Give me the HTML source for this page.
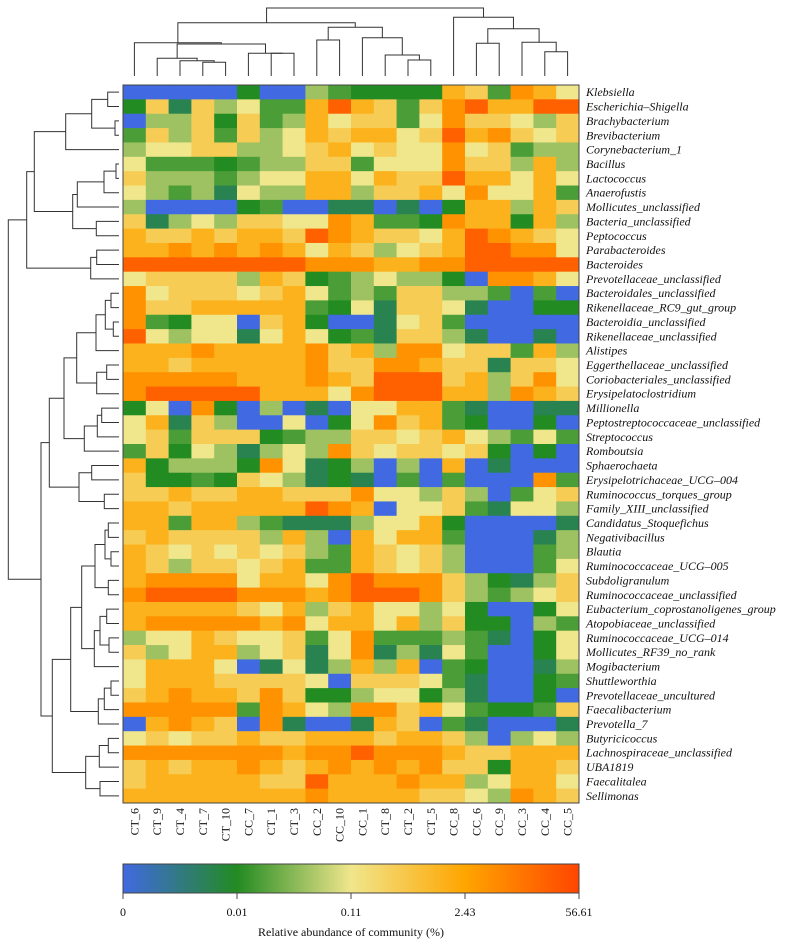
<!DOCTYPE html>
<html><head><meta charset="utf-8"><style>
html,body{margin:0;padding:0;background:#fff;}
svg{display:block;font-family:"Liberation Serif",serif;}
</style></head><body>
<svg id="chart" width="794" height="946" viewBox="0 0 794 946" xmlns="http://www.w3.org/2000/svg">
<defs><linearGradient id="cbar" x1="0" x2="1" y1="0" y2="0">
<stop offset="0" stop-color="#4169E1"/><stop offset="0.25" stop-color="#228B22"/><stop offset="0.5" stop-color="#F0E68C"/><stop offset="0.75" stop-color="#FFA500"/><stop offset="1" stop-color="#FF4500"/></linearGradient></defs>
<g id="cells"></g>
<g id="rowlabels"></g>
<g id="collabels"></g>
<g id="topdendro" stroke="#333" stroke-width="1" fill="none"></g>
<g id="leftdendro" stroke="#333" stroke-width="1" fill="none"></g>
<g id="colorbar"></g>
</svg>
<script>
const columns=["CT_6","CT_9","CT_4","CT_7","CT_10","CC_7","CT_1","CT_3","CC_2","CC_10","CC_1","CT_8","CT_2","CT_5","CC_8","CC_6","CC_9","CC_3","CC_4","CC_5"];
const genera=["Klebsiella","Escherichia\u2013Shigella","Brachybacterium","Brevibacterium","Corynebacterium_1","Bacillus","Lactococcus","Anaerofustis","Mollicutes_unclassified","Bacteria_unclassified","Peptococcus","Parabacteroides","Bacteroides","Prevotellaceae_unclassified","Bacteroidales_unclassified","Rikenellaceae_RC9_gut_group","Bacteroidia_unclassified","Rikenellaceae_unclassified","Alistipes","Eggerthellaceae_unclassified","Coriobacteriales_unclassified","Erysipelatoclostridium","Millionella","Peptostreptococcaceae_unclassified","Streptococcus","Romboutsia","Sphaerochaeta","Erysipelotrichaceae_UCG\u2013004","Ruminococcus_torques_group","Family_XIII_unclassified","Candidatus_Stoquefichus","Negativibacillus","Blautia","Ruminococcaceae_UCG\u2013005","Subdoligranulum","Ruminococcaceae_unclassified","Eubacterium_coprostanoligenes_group","Atopobiaceae_unclassified","Ruminococcaceae_UCG\u2013014","Mollicutes_RF39_no_rank","Mogibacterium","Shuttleworthia","Prevotellaceae_uncultured","Faecalibacterium","Prevotella_7","Butyricicoccus","Lachnospiraceae_unclassified","UBA1819","Faecalitalea","Sellimonas"];
// abundance level (log-scaled colour index 0..9) per genus row, per sample column
const abundanceLevel=[
[0,0,0,0,0,2,0,0,4,3,2,2,2,2,7,6,3,8,7,5],
[2,6,1,6,4,5,3,3,7,9,7,6,3,6,8,9,7,7,9,9],
[0,4,4,6,2,6,3,4,7,5,6,6,3,5,8,6,6,5,4,6],
[3,6,4,6,3,6,4,5,7,6,7,7,5,6,9,7,8,6,5,6],
[4,5,5,6,6,4,4,5,6,7,5,6,5,5,8,5,6,3,4,4],
[5,3,3,3,2,3,4,4,6,6,3,5,5,5,8,6,6,4,7,4],
[6,4,4,4,3,4,5,5,7,7,5,7,6,6,9,7,7,5,7,5],
[5,4,3,4,1,5,4,4,7,7,4,6,6,7,5,8,5,5,7,3],
[4,0,0,0,0,2,3,0,0,1,1,0,1,0,2,7,7,4,7,6],
[6,1,4,5,4,6,6,5,5,8,7,3,3,2,8,7,7,2,7,4],
[7,6,6,7,6,7,7,6,9,8,7,6,6,5,7,9,8,7,6,5],
[7,7,8,7,8,7,8,7,5,7,6,4,5,6,7,9,9,8,8,5],
[9,9,9,9,9,9,9,9,8,8,8,7,7,8,8,9,9,9,9,9],
[5,6,6,6,6,4,7,6,2,3,4,5,4,4,2,0,8,8,7,5],
[8,5,6,6,6,5,6,7,5,3,4,3,6,6,4,4,3,0,3,0],
[8,6,6,7,7,7,7,7,3,2,5,1,6,6,5,1,0,0,2,2],
[8,3,2,5,5,0,6,7,2,0,0,1,5,6,3,0,0,0,0,0],
[9,5,4,5,5,1,5,7,5,2,3,1,6,6,4,1,0,0,1,0],
[7,7,7,8,7,7,7,7,8,6,7,4,8,8,5,6,6,3,7,4],
[7,7,6,7,7,7,7,7,8,6,6,8,8,7,6,6,1,6,6,5],
[8,8,8,8,8,7,7,7,8,7,6,9,9,9,6,7,4,6,8,5],
[8,9,9,9,9,9,7,7,7,5,8,9,9,9,7,7,4,8,7,6],
[2,5,0,8,2,0,4,0,1,0,5,5,7,7,3,1,0,0,1,1],
[5,7,1,6,4,0,0,5,0,2,5,8,6,7,3,2,0,0,2,0],
[5,6,3,6,6,6,2,3,4,4,6,6,5,6,7,5,4,3,5,3],
[3,6,2,5,4,1,4,5,4,8,6,5,6,6,5,6,2,0,2,0],
[7,2,4,4,4,2,8,5,1,2,4,0,4,0,7,0,1,0,0,0],
[6,2,2,3,2,6,5,4,1,2,1,0,3,0,3,0,0,0,8,3],
[6,6,7,6,6,7,7,6,6,6,8,5,5,4,6,4,0,3,5,6],
[7,7,6,7,7,7,7,7,9,8,7,0,5,5,6,3,1,5,5,4],
[7,7,3,7,7,4,3,1,1,1,4,5,5,7,2,0,0,0,0,1],
[6,7,6,6,6,6,4,7,4,0,7,5,7,7,3,0,0,0,1,4],
[7,6,5,6,5,6,5,6,4,3,7,6,5,6,4,0,0,0,3,4],
[7,6,4,6,6,5,6,7,3,3,7,6,5,6,4,0,0,0,3,5],
[7,8,8,8,8,5,7,7,5,8,9,8,8,8,6,4,2,1,4,6],
[8,9,9,9,9,8,8,8,7,8,9,9,9,8,6,4,3,4,5,6],
[7,7,7,7,7,6,5,7,4,6,7,5,5,4,5,2,0,0,2,5],
[7,8,8,8,8,8,7,8,5,7,7,5,7,4,6,2,2,0,4,3],
[4,5,5,7,6,5,5,6,3,5,8,3,3,3,4,3,1,0,2,5],
[6,4,5,7,7,4,5,6,1,5,8,1,4,1,5,3,0,0,2,5],
[5,7,7,7,5,0,1,5,1,4,7,4,7,0,3,2,0,0,1,4],
[5,7,7,7,6,6,6,6,5,0,6,6,6,5,3,1,0,0,2,3],
[6,7,8,7,7,6,8,6,2,2,4,5,5,2,4,1,0,0,2,0],
[8,8,8,8,8,3,8,7,5,4,8,8,6,7,5,3,2,2,3,6],
[0,7,8,7,6,0,8,1,0,0,1,7,6,0,3,1,0,0,0,1],
[5,6,5,6,6,7,6,6,7,7,7,6,7,7,6,4,0,4,5,4],
[8,8,8,8,8,8,8,7,8,8,9,8,8,8,7,6,6,7,7,7],
[6,7,6,7,7,8,7,6,7,8,7,8,7,8,6,6,2,7,7,6],
[6,7,7,7,7,7,6,6,9,7,7,7,8,7,7,4,5,7,7,5],
[7,7,7,7,7,7,7,7,8,7,7,7,7,6,6,5,4,8,7,6]];
const legendTicks=["0","0.01","0.11","2.43","56.61"];

const NS="http://www.w3.org/2000/svg";
function mk(tag,attrs,parent){const e=document.createElementNS(NS,tag);for(const k in attrs)e.setAttribute(k,attrs[k]);parent.appendChild(e);return e;}
const X0=123,X1=579,Y0=85,Y1=803;
const cw=(X1-X0)/columns.length, rh=(Y1-Y0)/genera.length;
const colX=i=>X0+cw*i, rowY=i=>Y0+rh*i;
const stops=[[0,[65,105,225]],[0.25,[34,139,34]],[0.5,[240,230,140]],[0.75,[255,165,0]],[1,[255,69,0]]];
const levelT=[0,0.19,0.25,0.3,0.4,0.5,0.6,0.7,0.8,0.93];
function color(v){const t=levelT[Math.max(0,Math.min(9,Math.round(v)))];
 for(let i=0;i<stops.length-1;i++){const a=stops[i],b=stops[i+1];if(t<=b[0]){const f=(t-a[0])/(b[0]-a[0]);
 const c=a[1].map((x,j)=>Math.round(x+(b[1][j]-x)*f));return `rgb(${c})`;}}return "rgb(255,69,0)";}
const cells=document.getElementById('cells');
abundanceLevel.forEach((row,r)=>row.forEach((v,c)=>{
 const e=mk('rect',{x:colX(c).toFixed(2),y:rowY(r).toFixed(2),width:(cw+0.4).toFixed(2),height:(rh+0.4).toFixed(2),fill:color(v)},cells);
 
 
}));
const fr=mk('rect',{x:X0,y:Y0,width:X1-X0,height:Y1-Y0,fill:'none',stroke:'#444','stroke-width':1},cells);


const rl=document.getElementById('rowlabels');
genera.forEach((g,r)=>{const t=mk('text',{x:586,y:(rowY(r)+rh/2+4).toFixed(2),'font-size':'12','font-style':'italic',fill:'#111'},rl);t.textContent=g;
 
 });
const cl=document.getElementById('collabels');
columns.forEach((c,i)=>{const cx=colX(i)+cw/2+4;const t=mk('text',{x:0,y:0,'font-size':'12','text-anchor':'end',fill:'#111',transform:`translate(${cx.toFixed(2)},808) rotate(-90)`},cl);t.textContent=c;
 
 });
// dendrograms
const topTree=[[[0,[[1,[2,[3,4,62.3],60.7],58.3],[5,[6,7,53.3],53.3],44],42.7],[[8,9,40],[10,[11,[12,13,60],55],37.7],27.3],22.7],[14,[[15,16,43.3],[17,[18,19,51.7],42.3],28.7],17.3],8];
const A=[[[[0,1,107.7],[2,3,115],91.7],4,65.7],[[[[5,6,116],7,104],8,77.3],[9,10,96.3],72.7],34.3];
const T=[A,[[11,12,96.7],13,90.7],26.7];
const B1=[[[[14,15,111],[16,17,113.3],105.3],18,96],[[19,20,106.7],21,96.7],76.7];
const B2=[B1,[[[22,23,101.7],24,97.3],25,84.3],64];
const B3=[B2,[[26,27,91.7],[28,29,104.3],79],49.3];
const C1=[[[[30,31,108.3],[32,33,111],105],[34,35,108.3],95],[[[36,37,106.7],[38,39,109],100],40,94.3],81.7];
const C2=[C1,[[[41,42,111],43,104.3],44,98.3],70.7];
const C3=[C2,[[[45,46,108.3],47,99.3],[48,49,100],85.7],52.3];
const leftTree=[T,[B3,C3,41],8.3];
const td=document.getElementById('topdendro');
function drawTop(n){if(typeof n==='number')return [colX(n)+cw/2,76];
 const a=drawTop(n[0]),b=drawTop(n[1]),h=n[2];
 mk('path',{d:`M${a[0]},${a[1]}V${h}H${b[0]}V${b[1]}`},td);return [(a[0]+b[0])/2,h];}
drawTop(topTree);
const ld=document.getElementById('leftdendro');
function drawLeft(n){if(typeof n==='number')return [rowY(n)+rh/2,119];
 const a=drawLeft(n[0]),b=drawLeft(n[1]),h=n[2];
 mk('path',{d:`M${a[1]},${a[0]}H${h}V${b[0]}H${b[1]}`},ld);return [(a[0]+b[0])/2,h];}
drawLeft(leftTree);
// colorbar
const cb=document.getElementById('colorbar');
const bar=mk('rect',{x:123,y:864,width:456,height:29,fill:'url(#cbar)',stroke:'#444','stroke-width':1},cb);


legendTicks.forEach((lab,i)=>{const x=123+456*i/(legendTicks.length-1);
 mk('line',{x1:x,x2:x,y1:893,y2:899,stroke:'#444'},cb);
 const t=mk('text',{x:x,y:916,'font-size':'12','text-anchor':'middle',fill:'#111'},cb);t.textContent=lab;
 
 });
const ttl=mk('text',{x:351,y:936,'font-size':'12','text-anchor':'middle',fill:'#111'},cb);
ttl.textContent='Relative abundance of community (%)';


</script>
</body></html>
